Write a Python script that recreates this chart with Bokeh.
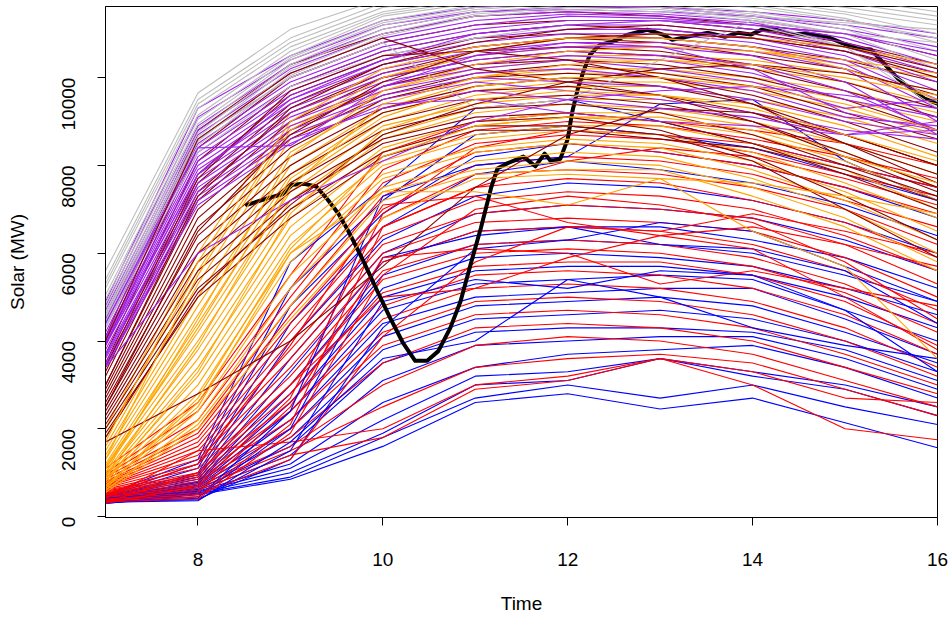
import math
from bokeh.plotting import figure
from bokeh.models import Range1d, ColumnDataSource, FixedTicker
from bokeh.embed import file_html
from bokeh.resources import INLINE

hours = [7, 8, 9, 10, 11, 12, 13, 14, 15, 16]

grey_lines = [
    [5600, 9650, 11100, 11800, 12000, 12100, 12100, 12000, 11800, 11500],
    [5400, 9500, 10900, 11700, 11900, 12000, 12000, 11900, 11700, 11400],
    [5300, 9400, 10800, 11600, 11850, 11900, 11950, 11850, 11600, 11300],
    [5200, 9300, 10700, 11500, 11800, 11900, 11900, 11800, 11500, 11200],
    [5050, 9150, 10600, 11450, 11750, 11850, 11850, 11700, 11450, 11000],
    [4950, 9050, 10500, 11400, 11700, 11800, 11800, 11650, 11350, 10800],
    [4850, 8950, 10450, 11300, 11650, 11750, 11750, 11600, 11300, 10900],
    [4750, 8850, 10400, 11250, 11600, 11700, 11700, 11500, 11200, 10600],
    [4650, 8750, 10300, 11200, 11550, 11700, 11650, 11450, 11100, 10400],
    [4550, 8650, 10250, 11100, 11500, 11650, 11600, 11400, 11250, 11100],
    [4450, 8550, 10150, 11000, 11450, 11600, 11550, 11350, 11000, 10200],
    [4350, 8450, 10050, 10950, 11400, 11550, 11500, 11300, 10700, 9300],
    [4600, 8600, 10000, 10800, 9300, 9500, 10400, 11300, 11000, 10800],
    [4300, 8300, 9800, 10500, 10900, 11200, 11300, 11200, 10700, 9450],
]

purple_lines = [
    [4900, 9300, 10500, 11300, 11600, 11700, 11600, 11500, 11300, 11000],
    [4800, 9100, 10400, 11200, 11500, 11600, 11600, 11400, 11200, 10900],
    [4700, 8900, 10300, 11100, 11500, 11550, 11500, 11400, 11100, 10700],
    [4600, 8800, 10200, 11000, 11400, 11500, 11450, 11300, 11000, 10500],
    [4500, 8700, 10100, 10900, 11300, 11450, 11400, 11250, 10900, 10300],
    [4450, 8600, 10000, 10800, 11200, 11400, 11350, 11200, 10800, 10200],
    [4400, 8500, 9900, 10700, 11100, 11300, 11300, 11100, 10700, 10100],
    [4300, 8400, 9800, 10600, 11000, 11200, 11200, 11000, 10600, 9900],
    [4200, 8300, 9700, 10500, 10900, 11100, 11100, 10900, 10500, 9700],
    [4100, 8200, 9600, 10400, 10800, 11000, 11000, 10800, 10400, 9500],
    [4050, 8100, 9500, 10300, 10700, 10900, 10900, 10700, 10300, 9300],
    [4000, 8000, 9400, 10200, 10600, 10800, 10800, 10600, 10200, 9000],
    [3950, 7900, 9300, 10100, 10500, 10700, 10700, 10500, 9900, 8700],
    [3900, 7800, 9200, 10000, 10400, 10600, 10500, 10300, 9700, 8800],
    [3800, 7700, 9100, 9900, 10300, 10500, 10400, 10100, 9500, 9100],
    [3700, 7600, 9000, 9800, 10200, 10400, 10200, 9900, 9300, 9500],
    [3650, 7500, 8900, 9700, 10100, 10200, 10000, 9700, 9100, 8900],
    [3600, 7400, 8800, 9600, 10000, 9900, 9800, 9500, 9000, 8700],
    [3500, 7300, 8700, 9500, 9900, 9700, 9500, 9200, 8800, 8600],
    [3450, 7200, 8600, 9300, 9700, 9500, 9300, 9100, 8700, 8800],
    [3400, 7100, 8500, 9400, 9500, 9200, 9000, 8900, 8700, 9000],
    [3400, 6000, 7200, 8100, 9000, 9500, 9700, 9800, 9600, 9300],
    [4400, 8400, 8450, 9800, 10500, 10800, 10700, 10200, 9200, 8800],
    [3900, 7800, 9500, 10400, 11000, 11200, 11300, 11200, 11000, 10600],
]

darkred_lines = [
    [4100, 8800, 10300, 11000, 11400, 11500, 11400, 11200, 11000, 10500],
    [3900, 8400, 10000, 10800, 11200, 11300, 11300, 11100, 10800, 10300],
    [3700, 8100, 9800, 10600, 11000, 11200, 11100, 10900, 10600, 10100],
    [3500, 7800, 9600, 10400, 10900, 11000, 10900, 10700, 10400, 9900],
    [3300, 7600, 9400, 10300, 10700, 10900, 10800, 10500, 10200, 9600],
    [3200, 7400, 9200, 10100, 10600, 10700, 10600, 10300, 9900, 9300],
    [3000, 7200, 9000, 10000, 10400, 10600, 10500, 10200, 9700, 9100],
    [2900, 7000, 8800, 9800, 10300, 10400, 10300, 10000, 9500, 8800],
    [2800, 6800, 8600, 9600, 10100, 10300, 10100, 9800, 9200, 8600],
    [2700, 6600, 8400, 9500, 10000, 10100, 10000, 9600, 9000, 8300],
    [2600, 6400, 8200, 9300, 9800, 10000, 9800, 9400, 8700, 8000],
    [2500, 6200, 8000, 9200, 9700, 9800, 9600, 9200, 8500, 7800],
    [2400, 6000, 7800, 9000, 9500, 9600, 9400, 9000, 8300, 7500],
    [2300, 5800, 7600, 8800, 9300, 9400, 9200, 8700, 8000, 7300],
    [2200, 5600, 7400, 8600, 9100, 9200, 9000, 8500, 7800, 7000],
    [2100, 5400, 7200, 8500, 9000, 9100, 8800, 8200, 7300, 6300],
    [2000, 5200, 7000, 8300, 8900, 8900, 8700, 8100, 7000, 5900],
    [1900, 5000, 6800, 8200, 8800, 8800, 8600, 8400, 7900, 7200],
    [1800, 5100, 7100, 8700, 9400, 9900, 10200, 10300, 10100, 9700],
    [1700, 2800, 4000, 5700, 7500, 8700, 9300, 9200, 8700, 8000],
    [3400, 7700, 9700, 10500, 10600, 10400, 10000, 9400, 8500, 7600],
    [3000, 7300, 9300, 10300, 10800, 11100, 11200, 11000, 10700, 10200],
    [2500, 6500, 8700, 9900, 10600, 10900, 11000, 10900, 10600, 10000],
    [4000, 8600, 10100, 10900, 10200, 9900, 9600, 9000, 8200, 7400],
]

orange_lines = [
    [2000, 6000, 9200, 10000, 10500, 10700, 10800, 10600, 10300, 10000],
    [1800, 5600, 8900, 9800, 10300, 10500, 10500, 10400, 10100, 9700],
    [1600, 5300, 8600, 9700, 10200, 10400, 10400, 10200, 9900, 9400],
    [1500, 5000, 8300, 9500, 10000, 10200, 10200, 10000, 9700, 9200],
    [1400, 4800, 8000, 9300, 9900, 10100, 10100, 9900, 9500, 9000],
    [1300, 4600, 7800, 9200, 9700, 9900, 9900, 9700, 9300, 8700],
    [1200, 4400, 7600, 9000, 9600, 9800, 9800, 9500, 9100, 8500],
    [1150, 4200, 7400, 8900, 9400, 9600, 9600, 9400, 8900, 8200],
    [1100, 4000, 7200, 8700, 9300, 9500, 9500, 9200, 8700, 8000],
    [1000, 3800, 7000, 8600, 9200, 9400, 9300, 9000, 8500, 7800],
    [950, 3600, 6800, 8400, 9000, 9200, 9200, 8900, 8300, 7500],
    [900, 3400, 6600, 8300, 8900, 9100, 9000, 8700, 8100, 7200],
    [850, 3200, 6400, 8100, 8700, 8900, 8900, 8500, 7900, 7000],
    [800, 3000, 6200, 8000, 8600, 8800, 8700, 8300, 7600, 6800],
    [750, 2800, 6000, 7800, 8400, 8600, 8500, 8100, 7400, 6500],
    [700, 2600, 5800, 7700, 8300, 8500, 8400, 7900, 7200, 6300],
    [650, 2400, 5500, 7500, 8100, 8300, 8200, 7700, 7000, 6000],
    [600, 2200, 5200, 7400, 7900, 8100, 8000, 7500, 6800, 5800],
    [600, 2100, 4800, 7200, 7800, 7900, 7900, 7300, 6600, 5600],
    [550, 2000, 4500, 6800, 7700, 7800, 7700, 6500, 5700, 3600],
    [700, 2500, 6000, 7400, 7400, 7100, 7700, 7600, 7300, 6900],
    [1300, 5500, 8800, 10000, 10600, 10900, 11000, 10900, 10700, 10300],
    [1000, 4500, 8200, 9700, 10300, 10600, 10700, 10600, 10400, 10100],
    [900, 3900, 7500, 9400, 10000, 10300, 10400, 10300, 10000, 9600],
    [1700, 5800, 9000, 10200, 10700, 10900, 10900, 10700, 10200, 9500],
    [1100, 4300, 7700, 9100, 9800, 10000, 10000, 9800, 9400, 8800],
    [800, 3300, 6900, 8800, 9500, 9700, 9600, 9300, 8700, 8100],
    [650, 2700, 6100, 8200, 8900, 9100, 9100, 8800, 8200, 7600],
]

red_lines = [
    [1100, 2600, 5500, 8300, 9000, 9200, 9000, 8800, 8500, 8000],
    [1000, 2400, 5200, 7900, 8800, 9000, 8900, 8600, 8200, 7700],
    [950, 2200, 5000, 7600, 8500, 8700, 8600, 8300, 7800, 7300],
    [900, 2000, 4800, 7300, 8300, 8500, 8300, 8000, 7500, 6900],
    [850, 1900, 4600, 7000, 8000, 8200, 8100, 7800, 7200, 6600],
    [800, 1800, 4400, 6800, 7800, 7900, 7800, 7500, 7000, 6200],
    [780, 1700, 4200, 6600, 7500, 7700, 7600, 7200, 6700, 5900],
    [750, 1600, 4000, 6400, 7200, 7400, 7300, 7000, 6400, 5600],
    [720, 1500, 3800, 6200, 6900, 7100, 7000, 6800, 6200, 5300],
    [700, 1400, 3600, 6000, 6700, 6800, 6700, 6500, 5900, 5000],
    [680, 1300, 3400, 5800, 6500, 6600, 6500, 6200, 5600, 4700],
    [650, 1200, 3200, 5600, 6200, 6300, 6200, 5900, 5300, 4400],
    [620, 1100, 3000, 5400, 6000, 6100, 6000, 5700, 5100, 4200],
    [600, 1000, 2800, 5100, 5700, 5800, 5800, 5500, 4900, 3900],
    [580, 950, 2600, 4800, 5500, 5600, 5500, 5200, 4600, 3700],
    [560, 900, 2400, 4500, 5200, 5300, 5200, 4900, 4300, 3400],
    [540, 850, 2200, 4200, 4900, 5000, 4900, 4600, 4000, 3200],
    [520, 800, 2000, 3900, 4600, 4700, 4600, 4300, 3700, 3000],
    [500, 750, 1800, 3500, 4300, 4400, 4300, 4000, 3400, 2800],
    [480, 700, 1600, 3000, 3900, 4100, 4000, 3700, 3100, 2500],
    [460, 650, 1500, 2500, 3400, 3600, 3700, 3500, 2900, 2300],
    [440, 600, 1400, 1800, 2900, 3100, 3600, 3000, 2000, 1750],
    [420, 1500, 1700, 2000, 3000, 3200, 3600, 3300, 2700, 2600],
    [400, 550, 2500, 5900, 6100, 6000, 5300, 5600, 5200, 4800],
    [380, 500, 1300, 4100, 5800, 6600, 6500, 6900, 6500, 6000],
    [360, 450, 2100, 6600, 7500, 8100, 8400, 8200, 7700, 7100],
    [340, 400, 1900, 5500, 7000, 7300, 7100, 6700, 5800, 4500],
    [320, 1000, 3000, 5000, 5200, 5900, 6400, 6600, 6200, 5700],
    [300, 700, 2700, 6900, 8400, 8800, 8700, 8500, 8000, 7500],
    [500, 1200, 3900, 7100, 7300, 6700, 6400, 6100, 5000, 3800],
]

blue_lines = [
    [500, 1300, 5800, 7500, 9300, 9500, 9000, 8500, 8000, 7500],
    [480, 1200, 5200, 7200, 8700, 8900, 8700, 8400, 7800, 7200],
    [470, 1100, 4800, 6900, 8200, 8500, 8300, 8000, 7500, 6800],
    [460, 1000, 4400, 6600, 7800, 8100, 7900, 7600, 7100, 6400],
    [450, 950, 4000, 6300, 7300, 7600, 7500, 7200, 6700, 6000],
    [440, 900, 3600, 6000, 6900, 7100, 7000, 6800, 6300, 5600],
    [430, 850, 3300, 5800, 6500, 6600, 6600, 6300, 5900, 5200],
    [420, 800, 3000, 5500, 6200, 6300, 6200, 6000, 5500, 4900],
    [410, 780, 2800, 5200, 5900, 6000, 5900, 5700, 5200, 4600],
    [400, 750, 2600, 5000, 5600, 5700, 5700, 5500, 5000, 4300],
    [390, 720, 2400, 4700, 5300, 5400, 5500, 5400, 4700, 4000],
    [380, 700, 2200, 4400, 5000, 5100, 5200, 5200, 4500, 3700],
    [370, 680, 2000, 4100, 4800, 4900, 5000, 4800, 4200, 3500],
    [360, 650, 1800, 3800, 4500, 4600, 4700, 4500, 4000, 3300],
    [350, 620, 1600, 3500, 4200, 4300, 4300, 4200, 3800, 3100],
    [340, 600, 1400, 3100, 3900, 4000, 4100, 4100, 3600, 2900],
    [330, 580, 1200, 2600, 3400, 3700, 3800, 3900, 3400, 2700],
    [320, 560, 1100, 2200, 3200, 3300, 3600, 3300, 3000, 2500],
    [310, 540, 1000, 1900, 3000, 3100, 3600, 3200, 2900, 2300],
    [300, 520, 900, 1800, 2700, 3000, 2700, 3000, 2500, 2100],
    [300, 500, 850, 1600, 2600, 2800, 2450, 2700, 2140, 1570],
    [320, 400, 1300, 4300, 6100, 6300, 6700, 6500, 5700, 4900],
    [350, 450, 2000, 5900, 6400, 6600, 6200, 6100, 5600, 4400],
    [360, 380, 1500, 4900, 5400, 5200, 5600, 5500, 4700, 3300],
    [340, 420, 2400, 7300, 8000, 8200, 9400, 9500, 8100, 7200],
    [330, 360, 1700, 3600, 4000, 5400, 5000, 4300, 3900, 3600],
]

black_time = [8.53, 8.75, 8.92, 9.02, 9.15, 9.28, 9.40, 9.52, 9.61, 9.70, 9.79,
              9.94, 10.08, 10.22, 10.35, 10.48, 10.60, 10.73, 10.84, 10.95,
              11.06, 11.17, 11.24, 11.35, 11.52, 11.65, 11.75, 11.82, 11.92,
              12.0, 12.05, 12.11, 12.17, 12.24, 12.35, 12.49, 12.65, 12.86,
              13.03, 13.13, 13.34, 13.52, 13.70, 13.84, 13.98, 14.12, 14.27,
              14.41, 14.60, 14.81, 14.99, 15.14, 15.28, 15.43, 15.57, 15.71,
              15.86, 16.0]
black_solar = [7100, 7250, 7350, 7560, 7580, 7520, 7230, 6900, 6570, 6200, 5820,
               5140, 4520, 3950, 3550, 3550, 3770, 4300, 4900, 5750,
               6570, 7480, 7930, 8050, 8200, 7980, 8270, 8090, 8150,
               8600, 9230, 9750, 10140, 10520, 10750, 10820, 10980, 11090,
               10980, 10860, 10950, 11020, 10930, 11020, 10980, 11110, 11090,
               10980, 11000, 10930, 10770, 10660, 10640, 10300, 9980, 9750,
               9520, 9410]

x_ticks = [8, 10, 12, 14, 16]
y_ticks = [0, 2000, 4000, 6000, 8000, 10000]


def interleave(groups):
    out = []
    n = max(len(g[0]) for g in groups)
    for i in range(n):
        for lines, col in groups:
            if i < len(lines):
                out.append((lines[i], col))
    return out


low = interleave([(red_lines, "#FF0000"), (blue_lines, "#0000FF")])
high = interleave([(orange_lines, "#FFA500"), (darkred_lines, "#8B0000"),
                   (purple_lines, "#A020F0"), (grey_lines, "#BEBEBE")])

p = figure(width=952, height=620, output_backend="svg", toolbar_location=None,
           x_range=Range1d(7, 16), y_range=Range1d(-20, 11620),
           min_border_left=105, min_border_right=15, min_border_top=6,
           min_border_bottom=103)

src_low = ColumnDataSource(dict(xs=[hours] * len(low), ys=[l for l, c in low],
                                c=[c for l, c in low]))
p.multi_line("xs", "ys", source=src_low, line_color="c", line_width=1.1,
             line_join="round")

p.line(black_time, black_solar, line_color="black", line_width=4, line_join="round",
       line_cap="round")

src_high = ColumnDataSource(dict(xs=[hours] * len(high), ys=[l for l, c in high],
                                 c=[c for l, c in high]))
p.multi_line("xs", "ys", source=src_high, line_color="c", line_width=1.1,
             line_join="round")

p.xgrid.visible = False
p.ygrid.visible = False
p.outline_line_color = "black"
p.outline_line_width = 1
p.background_fill_color = "white"
p.border_fill_color = "white"

p.xaxis.ticker = FixedTicker(ticks=x_ticks)
p.yaxis.ticker = FixedTicker(ticks=y_ticks)
for ax in (p.xaxis[0], p.yaxis[0]):
    ax.minor_tick_line_color = None
    ax.major_tick_in = 0
    ax.major_tick_out = 8
    ax.major_tick_line_color = "black"
    ax.axis_line_color = "black"
    ax.major_label_text_font = "Liberation Sans"
    ax.major_label_text_font_size = "19px"
    ax.major_label_text_color = "black"
    ax.axis_label_text_font = "Liberation Sans"
    ax.axis_label_text_font_size = "19px"
    ax.axis_label_text_font_style = "normal"
    ax.axis_label_text_color = "black"

p.xaxis.axis_label = "Time"
p.yaxis.axis_label = "Solar (MW)"
p.xaxis.major_label_standoff = 27
p.xaxis.axis_label_standoff = 24
p.yaxis.major_label_orientation = math.pi / 2
p.yaxis.major_label_standoff = 29
p.yaxis.axis_label_standoff = 25

open("out.html", "w").write(file_html(p, INLINE))
